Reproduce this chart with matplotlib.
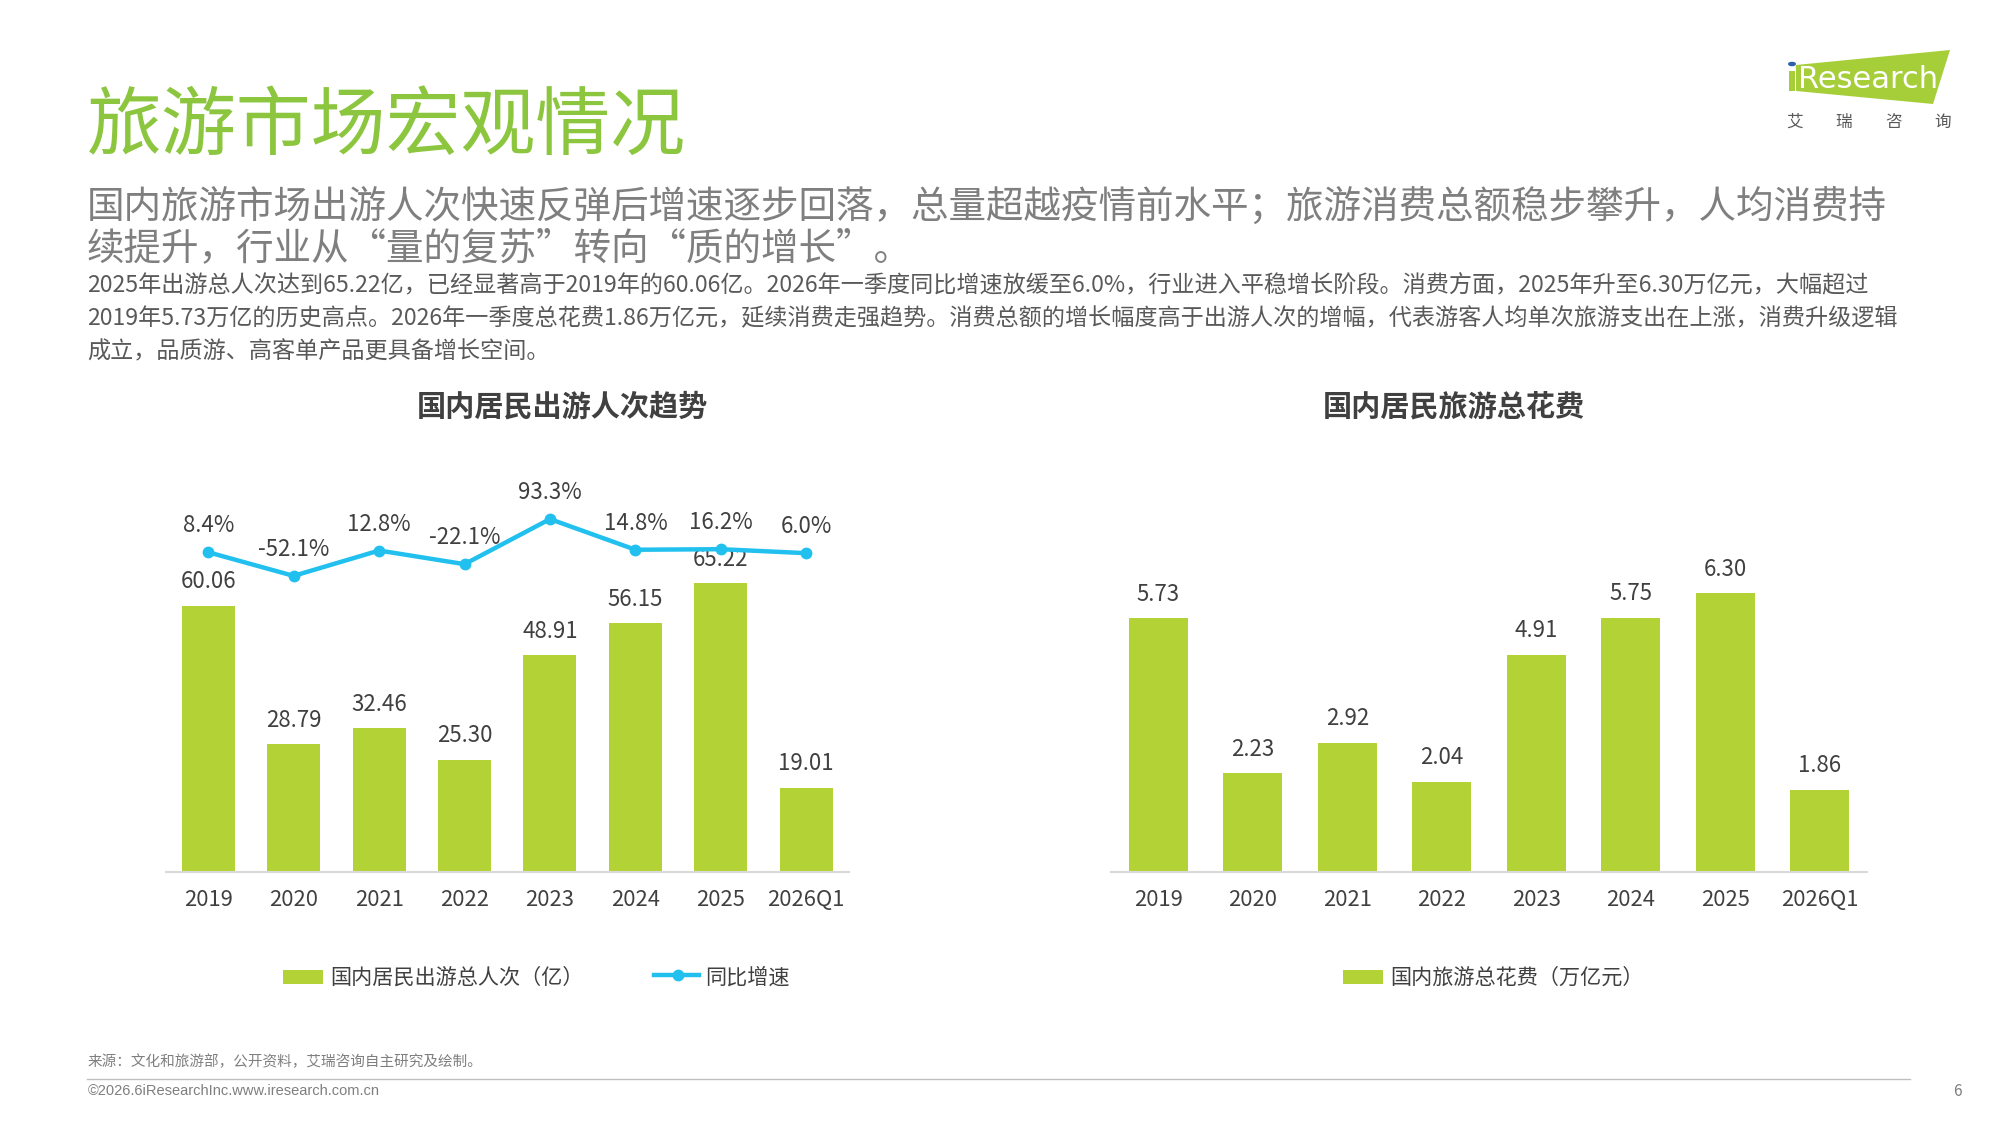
import matplotlib
matplotlib.use("Agg")
import matplotlib.pyplot as plt
from matplotlib.patches import Rectangle, Polygon, Circle
from matplotlib.lines import Line2D
import numpy as np

plt.rcParams['font.family'] = ['Noto Sans CJK SC', 'DejaVu Sans']

# ---- 数据 ----
years = ["2019", "2020", "2021", "2022", "2023", "2024", "2025", "2026Q1"]
trips = [60.06, 28.79, 32.46, 25.30, 48.91, 56.15, 65.22, 19.01]          # 亿人次
growth = [8.4, -52.1, 12.8, -22.1, 93.3, 14.8, 16.2, 6.0]                  # 同比 %
spend = [5.73, 2.23, 2.92, 2.04, 4.91, 5.75, 6.30, 1.86]                   # 万亿元

GREEN = "#b2d235"
BLUE = "#22c0ee"
TITLE_GREEN = "#8cc63f"
DARK = "#404040"
GRAY = "#7f7f7f"

W, H = 2000, 1125
fig = plt.figure(figsize=(20, 11.25), dpi=100)
fig.patch.set_facecolor("white")


def fx(x):
    return x / W


def fy(y):
    return 1 - y / H


def fit_text(x, y, s, width_px, **kw):
    """按目标像素宽度调整字号"""
    t = fig.text(fx(x), fy(y), s, **kw)
    w = t.get_window_extent(fig.canvas.get_renderer()).width
    t.set_fontsize(t.get_fontsize() * width_px / w)
    return t


# ---- 标题与文字 ----
fit_text(87, 127, "旅游市场宏观情况", 600, fontsize=50, color=TITLE_GREEN, va="center")
sub = fit_text(87, 208, "国内旅游市场出游人次快速反弹后增速逐步回落，总量超越疫情前水平；旅游消费总额稳步攀升，人均消费持",
               1803, fontsize=26, color=GRAY, va="center")
fig.text(fx(87), fy(249), "续提升，行业从“量的复苏”转向“质的增长”。", fontsize=sub.get_fontsize(),
         color=GRAY, va="center")

body = ["2025年出游总人次达到65.22亿，已经显著高于2019年的60.06亿。2026年一季度同比增速放缓至6.0%，行业进入平稳增长阶段。消费方面，2025年升至6.30万亿元，大幅超过",
        "2019年5.73万亿的历史高点。2026年一季度总花费1.86万亿元，延续消费走强趋势。消费总额的增长幅度高于出游人次的增幅，代表游客人均单次旅游支出在上涨，消费升级逻辑",
        "成立，品质游、高客单产品更具备增长空间。"]
b0 = fit_text(87, 286, body[0], 1785, fontsize=15, color="#595959", va="center")
for i, line in enumerate(body[1:], start=1):
    fig.text(fx(87), fy(286 + 33 * i), line, fontsize=b0.get_fontsize(), color="#595959", va="center")

# ---- logo ----
fig.patches.append(Polygon([(fx(1796), fy(65)), (fx(1950), fy(50)), (fx(1933), fy(104)), (fx(1796), fy(91))],
                           closed=True, facecolor="#a6ce39", edgecolor="none", transform=fig.transFigure))
fig.patches.append(Rectangle((fx(1789), fy(91)), 6 / W, 20 / H, facecolor="#a6ce39", edgecolor="none",
                             transform=fig.transFigure))
fig.patches.append(Circle((fx(1792), fy(64)), 4 / W, facecolor="#2e5fa8", edgecolor="none",
                          transform=fig.transFigure))
fig.text(fx(1798), fy(80), "Research", fontsize=22, color="white", va="center", family=["DejaVu Sans"])
for cx, ch in zip([1795, 1844, 1893, 1943], "艾瑞咨询"):
    fig.text(fx(cx), fy(122), ch, fontsize=12, color="#595959", ha="center", va="center")

# ---- 左图: 出游人次 ----
x = np.arange(len(years))
ax1 = fig.add_axes([fx(165.5), fy(872), (849 - 165.5) / W, (872 - 480) / H])
ax1.bar(x, trips, width=0.62, color=GREEN)
ax1.set_xlim(-0.5, len(years) - 0.5)
ax1.set_ylim(0, 88.5)
for xi, v in zip(x, trips):
    ax1.annotate(f"{v:.2f}", (xi, v), xytext=(0, 9), textcoords="offset points",
                 ha="center", va="bottom", fontsize=16, color=DARK)

ax1b = ax1.twinx()
ax1b.plot(x, growth, color=BLUE, linewidth=3.2, marker="o", markersize=7.5)
ax1b.set_ylim(-810, 193.3)
for xi, v in zip(x, growth):
    ax1b.annotate(f"{v:.1f}%", (xi, v), xytext=(0, 19), textcoords="offset points",
                  ha="center", va="center", fontsize=16, color=DARK)

# ---- 右图: 旅游总花费 ----
ax2 = fig.add_axes([fx(1111), fy(872), (1867 - 1111) / W, (872 - 480) / H])
ax2.bar(x, spend, width=0.624, color=GREEN)
ax2.set_xlim(-0.5, len(years) - 0.5)
ax2.set_ylim(0, 8.86)
for xi, v in zip(x, spend):
    ax2.annotate(f"{v:.2f}", (xi, v), xytext=(0, 9), textcoords="offset points",
                 ha="center", va="bottom", fontsize=16, color=DARK)

for ax in (ax1, ax1b, ax2):
    for s in ["top", "left", "right", "bottom"]:
        ax.spines[s].set_visible(False)
    ax.set_yticks([])
    ax.patch.set_alpha(0)
for ax in (ax1, ax2):
    ax.spines["bottom"].set_visible(True)
    ax.spines["bottom"].set_color("#d9d9d9")
    ax.spines["bottom"].set_linewidth(1.5)
    ax.set_xticks(x)
    ax.set_xticklabels(years, fontsize=15.8, color=DARK)
    ax.tick_params(axis="x", length=0, pad=12)

fig.text(fx(562), fy(407), "国内居民出游人次趋势", fontsize=21, weight="bold", color=DARK, ha="center", va="center")
fig.text(fx(1454), fy(407), "国内居民旅游总花费", fontsize=21, weight="bold", color=DARK, ha="center", va="center")

# ---- 图例 ----
fig.patches.append(Rectangle((fx(283), fy(984)), 40 / W, 14 / H, facecolor=GREEN, edgecolor="none",
                             transform=fig.transFigure))
fig.text(fx(330), fy(978), "国内居民出游总人次（亿）", fontsize=15.2, color=DARK, va="center")
fig.lines.append(Line2D([fx(654), fx(699)], [fy(975), fy(975)], color=BLUE, linewidth=3.2,
                        transform=fig.transFigure))
fig.lines.append(Line2D([fx(678)], [fy(975)], color=BLUE, marker="o", markersize=7.5, linestyle="none",
                        transform=fig.transFigure))
fig.text(fx(705), fy(978), "同比增速", fontsize=15.2, color=DARK, va="center")

fig.patches.append(Rectangle((fx(1343), fy(984)), 40 / W, 14 / H, facecolor=GREEN, edgecolor="none",
                             transform=fig.transFigure))
fig.text(fx(1390), fy(978), "国内旅游总花费（万亿元）", fontsize=15.2, color=DARK, va="center")

# ---- 页脚 ----
fig.text(fx(88), fy(1062), "来源：文化和旅游部，公开资料，艾瑞咨询自主研究及绘制。", fontsize=10.5, color=GRAY, va="center")
fig.lines.append(Line2D([fx(87), fx(1910)], [fy(1079), fy(1079)], color="#bfbfbf", linewidth=1,
                        transform=fig.transFigure))
fig.text(fx(88), fy(1091), "©2026.6iResearchInc.www.iresearch.com.cn", fontsize=10.5, color=GRAY, va="center",
         family=["Liberation Sans", "DejaVu Sans"])
fig.text(fx(1957), fy(1091), "6", fontsize=11, color=GRAY, ha="center", va="center")

fig.savefig("out.png", dpi=100, facecolor="white")
